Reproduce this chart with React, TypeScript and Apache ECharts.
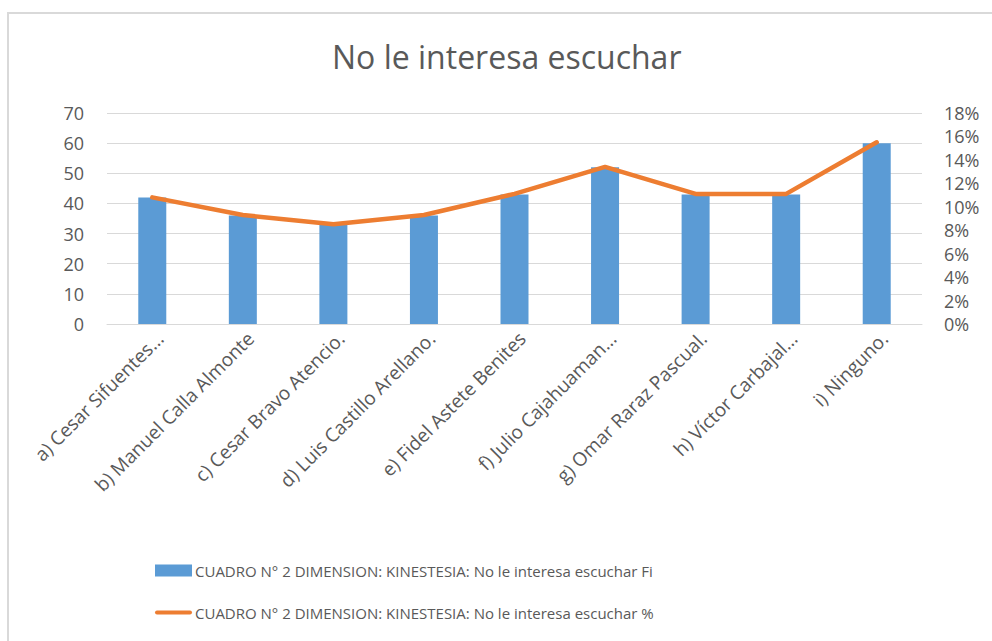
import React, { useEffect, useRef } from "react";
import * as echarts from "echarts";

const categories = [
  "a) Cesar Sifuentes...",
  "b) Manuel Calla Almonte",
  "c) Cesar Bravo Atencio.",
  "d) Luis Castillo Arellano.",
  "e) Fidel Astete Benites",
  "f) Julio Cajahuaman...",
  "g) Omar Raraz Pascual.",
  "h) Víctor Carbajal...",
  "i) Ninguno.",
];
const fiValues = [42, 36, 33, 36, 43, 52, 43, 43, 60];
const pctValues = [0.108, 0.093, 0.085, 0.093, 0.111, 0.134, 0.111, 0.111, 0.155];
const seriesNames = [
  "CUADRO N° 2 DIMENSION: KINESTESIA: No le interesa escuchar Fi",
  "CUADRO N° 2 DIMENSION: KINESTESIA: No le interesa escuchar %",
];
const titleText = "No le interesa escuchar";

const FONT = "'Open Sans', 'Noto Sans', sans-serif";
const GREY = "#595959";

export default function App() {
  const ref = useRef<HTMLDivElement>(null);
  useEffect(() => {
    if (!ref.current) return;
    const chart = echarts.init(ref.current, null, { renderer: "svg" });
    chart.setOption({
      animation: false,
      backgroundColor: "#ffffff",
      textStyle: { fontFamily: FONT, color: GREY },
      title: {
        text: titleText,
        left: 327,
        top: 35,
        itemGap: 0,
        textStyle: { fontFamily: FONT, fontSize: 32, fontWeight: "normal", color: GREY },
      },
      graphic: [
        {
          type: "rect",
          shape: { x: 8, y: 13, width: 1100, height: 800 },
          style: { fill: "none", stroke: "#d9d9d9", lineWidth: 2 },
          silent: true,
        },
      ],
      legend: {
        orient: "vertical",
        left: 150,
        top: 558,
        itemGap: 27,
        itemWidth: 37,
        itemHeight: 12,
        textStyle: { fontFamily: FONT, fontSize: 15, color: GREY, padding: [0, 0, 0, -2] },
        data: [
          { name: seriesNames[0], icon: "rect" },
          { name: seriesNames[1], icon: "path://M2,0 H35 A2,2 0 0 1 35,4 H2 A2,2 0 0 1 2,0 Z" },
        ],
      },
      grid: { left: 107, right: 70, top: 113, bottom: 317, containLabel: false },
      xAxis: {
        type: "category",
        data: categories,
        axisLine: { show: true, lineStyle: { color: "#d9d9d9", width: 1 } },
        axisTick: { show: false },
        axisLabel: {
          rotate: 45,
          interval: 0,
          margin: 19,
          padding: [0, -11, 0, 0],
          fontFamily: FONT,
          fontSize: 19,
          color: GREY,
        },
      },
      yAxis: [
        {
          type: "value",
          min: 0,
          max: 70,
          interval: 10,
          axisLine: { show: false },
          axisTick: { show: false },
          splitLine: { lineStyle: { color: "#d9d9d9", width: 1 } },
          axisLabel: { margin: 23, fontFamily: FONT, fontSize: 18, color: GREY },
        },
        {
          type: "value",
          min: 0,
          max: 0.18,
          interval: 0.02,
          position: "right",
          axisLine: { show: false },
          axisTick: { show: false },
          splitLine: { show: false },
          axisLabel: {
            margin: 22,
            fontFamily: FONT,
            fontSize: 18,
            color: GREY,
            formatter: (v: number) => Math.round(v * 100) + "%",
          },
        },
      ],
      series: [
        {
          name: seriesNames[0],
          type: "bar",
          data: fiValues,
          barWidth: 28,
          itemStyle: { color: "#5B9BD5" },
          yAxisIndex: 0,
        },
        {
          name: seriesNames[1],
          type: "line",
          data: pctValues,
          yAxisIndex: 1,
          symbol: "none",
          lineStyle: { color: "#ED7D31", width: 4.5, cap: "round", join: "round" },
          itemStyle: { color: "#ED7D31" },
        },
      ],
    });
    return () => chart.dispose();
  }, []);
  return (
    <div
      ref={ref}
      style={{ position: "fixed", left: 0, top: 0, width: 992, height: 641 }}
    />
  );
}
